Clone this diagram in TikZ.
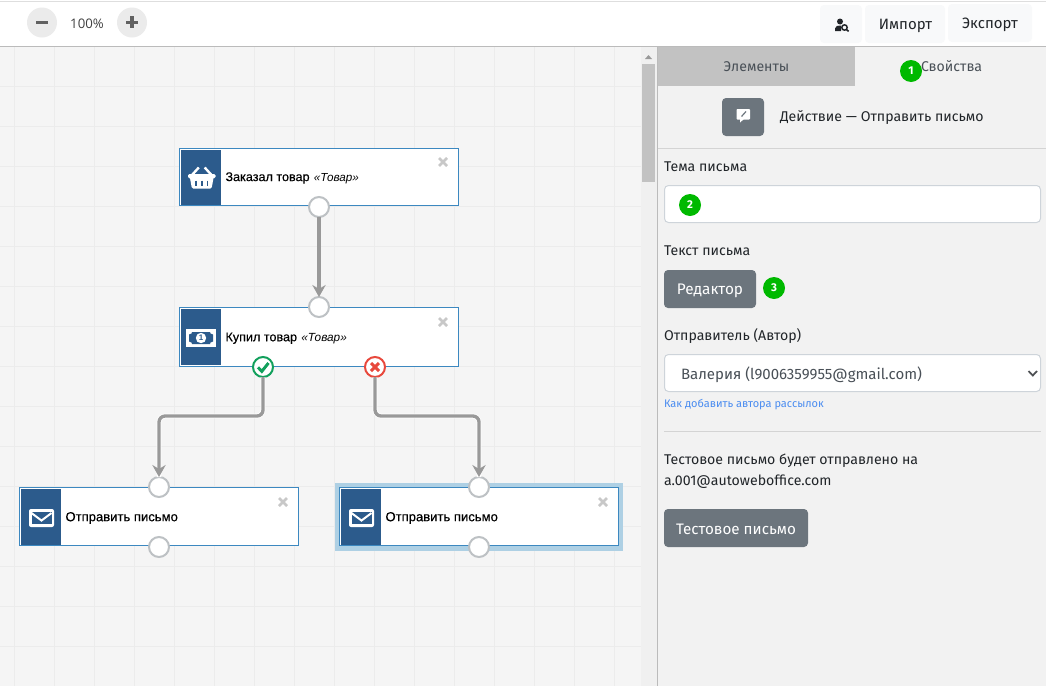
\documentclass[tikz,border=0pt]{standalone}
\usepackage{fontspec}
\setmainfont{Fira Sans}
\newfontfamily\arialf[FakeBold=0.3]{Liberation Sans}
\newfontfamily\ariali[ItalicFont={Liberation Sans Italic}]{Liberation Sans}
\newfontfamily\opens{Open Sans}
\usetikzlibrary{arrows.meta}
\definecolor{canvasbg}{HTML}{F5F5F5}
\definecolor{gridc}{HTML}{ECECEC}
\definecolor{panelbg}{HTML}{F2F2F2}
\definecolor{tabgray}{HTML}{C2C2C2}
\definecolor{linec}{HTML}{BBBBBB}
\definecolor{btn}{HTML}{6C757D}
\definecolor{btnl}{HTML}{F8F9FA}
\definecolor{ink}{HTML}{212529}
\definecolor{inkb}{HTML}{495057}
\definecolor{nblue}{HTML}{2C5B8C}
\definecolor{nedge}{HTML}{3C88C0}
\definecolor{halo}{HTML}{AED0E4}
\definecolor{portc}{HTML}{BDC1C4}
\definecolor{connc}{HTML}{999999}
\definecolor{closec}{HTML}{C8C8C8}
\definecolor{badge}{HTML}{00B900}
\definecolor{okc}{HTML}{12A05C}
\definecolor{noc}{HTML}{E8483C}
\definecolor{inputb}{HTML}{CED4DA}
\definecolor{linkc}{HTML}{4A8CF0}
\definecolor{sep}{HTML}{D4D4D4}
\newcommand{\fz}[1]{\fontsize{#1}{#1}\selectfont}
\tikzset{
 x=0.75pt,y=-0.75pt,
 txt/.style={inner sep=0,outer sep=0,anchor=west,text=ink,font=\fz{10.6}},
 nodebox/.style={draw=nedge,line width=0.75pt,fill=white,inner sep=0,outer sep=0,anchor=north west,minimum height=43.5pt,minimum width=209.25pt},
 nodelabel/.style={inner sep=0,outer sep=0,anchor=west,text=black,font=\arialf\fz{9.45}},
 port/.style={circle,draw=portc,line width=1.5pt,fill=white,minimum size=15pt,inner sep=0,outer sep=0},
 okport/.style={port,draw=okc},
 noport/.style={port,draw=noc},
 conn/.style={draw=connc,line width=2.5pt,rounded corners=4.5pt},
 connhalo/.style={draw=white,line width=3.6pt,rounded corners=4.5pt},
 connarrow/.style={conn,-{Stealth[length=9pt,width=10pt,inset=3pt]}},
 closemark/.style={draw=closec,line width=2pt},
 badgec/.style={circle,fill=badge,text=white,minimum size=16.5pt,inner sep=0,font=\bfseries\fz{8.5}},
 lightbtn/.style={fill=btnl,draw=none,rounded corners=3pt},
 darkbtn/.style={fill=btn,draw=none,rounded corners=3pt},
 field/.style={fill=white,draw=inputb,line width=0.75pt,rounded corners=3pt},
 zoomc/.style={circle,fill=black!8,minimum size=22.5pt,inner sep=0},
 zoomm/.style={draw=black!62,line width=2.6pt},
}
\begin{document}
\begin{tikzpicture}
\useasboundingbox (0,0) rectangle (1046,686);
\fill[white] (0,0) rectangle (1046,686);
% canvas
\fill[canvasbg] (0,47) rectangle (641,686);
\begin{scope}
\clip (0,47) rectangle (641,686);
\foreach \gx in {14,54,...,634} \draw[gridc,line width=0.75pt] (\gx,47) -- (\gx,686);
\foreach \gy in {86.5,126.5,...,680} \draw[gridc,line width=0.75pt] (0,\gy) -- (641,\gy);
\end{scope}
% toolbar
\fill[black!13] (0,0.5) rectangle (1046,1.8);
\draw[linec,line width=0.75pt] (0,46.5) -- (1046,46.5);
\node[zoomc] (zminus) at (42,22.5) {};
\node[zoomc] (zplus) at (132,22.5) {};
\draw[zoomm] (36,22.3) -- (48,22.3);
\draw[zoomm] (126,22.3) -- (138,22.3) (132,16.3) -- (132,28.3);
\node[inner sep=0,text=black!75,font=\opens\fz{9.9}] (zpct) at (87,23.3) {100\%};
\fill[lightbtn] (820,5) rectangle (862,43);
\fill[lightbtn] (865,5) rectangle (945,43);
\fill[lightbtn] (948,4) rectangle (1032,42);
\node[inner sep=0,text=ink,font=\fz{11.25}] (imp) at (905.5,25.8) {Импорт};
\node[inner sep=0,text=ink,font=\fz{11.25}] (exp) at (990,24.8) {Экспорт};
% search-user icon
\fill[ink] (840,21.5) circle (3);
\fill[ink] (835,31) -- (835,28.5) .. controls (835,26) and (838,25.2) .. (841,25.5) -- (841,31) -- cycle;
\draw[ink,line width=1.1pt,fill=btnl] (844.5,27.5) circle (2.7);
\draw[ink,line width=1.2pt] (846.5,29.5) -- (848.6,31.4);
% scrollbar
\fill[black!6] (641,47) rectangle (657,686);
\fill[tabgray] (642,64) rectangle (655,182);
\fill[black!40] (645,59) -- (652,59) -- (648.5,55) -- cycle;
% panel
\fill[panelbg] (658,47) rectangle (1046,686);
\fill[tabgray] (658,47) rectangle (855,86);
\draw[linec,line width=1pt] (657.5,47) -- (657.5,686);
\node[inner sep=0,text=inkb,font=\fz{10.6}] (tab1) at (756.5,66.8) {Элементы};
\node[inner sep=0,text=inkb,font=\fz{10.6}] (tab2) at (951.5,66.2) {Свойства};
\node[badgec] (b1) at (911,71) {1};
% action header
\fill[darkbtn] (722,98) rectangle (764,136);
\fill[white,rounded corners=0.6pt] (736.5,109) rectangle (750,119.5);
\fill[white] (740,119) -- (740,122.5) -- (744,119) -- cycle;
\draw[btn,line width=0.9pt] (741.5,116.5) -- (746,111.5);
\node[txt] (acttitle) at (780,117.3) {Действие — Отправить письмо};
\draw[sep,line width=0.75pt] (658,148.5) -- (1046,148.5);
% form
\node[txt] (l1) at (664,166.5) {Тема письма};
\draw[field] (664.5,185.5) rectangle (1040.5,222.5);
\node[badgec] (b2) at (690,205) {2};
\node[txt] (l2) at (664,250.8) {Текст письма};
\fill[darkbtn] (664,270) rectangle (756,308);
\node[inner sep=0,text=white,font=\fz{11.5}] (bed) at (710,290.4) {Редактор};
\node[badgec] (b3) at (774,288) {3};
\node[txt] (l3) at (664,336) {Отправитель (Автор)};
\draw[field] (664.5,354.5) rectangle (1040.5,391.5);
\node[txt,text=inkb,font=\fz{11.25}] (sel) at (681,375) {Валерия (l9006359955@gmail.com)};
\draw[ink!80,line width=1.3pt] (1028.5,371) -- (1032.8,375.5) -- (1037,371);
\node[txt,text=linkc,font=\fz{8.25}] (lnk) at (664,405) {Как добавить автора рассылок};
\draw[sep,line width=0.75pt] (664,431.5) -- (1041,431.5);
\node[txt] (t1) at (664,460.3) {Тестовое письмо будет отправлено на};
\node[txt] (t2) at (664,482) {a.001@autoweboffice.com};
\fill[darkbtn] (664,509) rectangle (808,547);
\node[inner sep=0,text=white,font=\fz{11.4}] (btest) at (736,529.4) {Тестовое письмо};
% flow boxes
\fill[halo] (335,483) rectangle (623,551);
\node[nodebox,minimum height=43.1pt] (n1) at (179.5,148.5) {};
\node[nodebox,minimum height=44.25pt] (n2) at (179.5,307.5) {};
\node[nodebox,minimum height=43.5pt] (n3) at (19.5,487.5) {};
\node[nodebox,minimum height=43.5pt] (n4) at (339.5,487.5) {};
\fill[nblue] (181,149.7) rectangle (221,205);
\fill[nblue] (181,309) rectangle (221,365);
\fill[nblue] (21,489) rectangle (61,545);
\fill[nblue] (341,489) rectangle (381,545);
% basket
\fill[white,rounded corners=1pt] (188,174) rectangle (215.5,178.3);
\fill[white,rounded corners=1pt] (189.8,177) -- (213.7,177) -- (211.6,188.5) -- (191.9,188.5) -- cycle;
\draw[nblue,line width=1.2pt] (196,180.5) -- (196,185.5) (201.7,180.5) -- (201.7,185.5) (207.4,180.5) -- (207.4,185.5);
\draw[white,line width=1.8pt] (192,175) -- (198.8,167.5) (211.5,175) -- (204.7,167.5);
% money
\fill[white] (186,329) rectangle (216,347);
\fill[nblue] (192,332) -- (210,332) -- (210.5,333.5) -- (213,334.5) -- (213,341.5) -- (210.5,342.5) -- (210,344) -- (192,344) -- (191.5,342.5) -- (189,341.5) -- (189,334.5) -- (191.5,333.5) -- cycle;
\fill[white] (201,338) circle (5.2);
\node[inner sep=0,text=nblue,font=\ariali\bfseries\fz{6}] (moneyone) at (201,338) {1};
% envelopes
\foreach \ex in {29,349}{
 \fill[white,rounded corners=1.5pt] (\ex,509) rectangle (\ex+25,527);
 \fill[nblue] (\ex+2.5,512) rectangle (\ex+22.5,524.3);
 \draw[white,line width=1.5pt] (\ex+2.5,513) -- (\ex+12.5,520.5) -- (\ex+22.5,513);
}
% labels
\node[nodelabel] (n1t) at (225.5,178) {Заказал товар\hspace{3.2pt}{\ariali\fz{8.75}\itshape «Товар»}};
\node[nodelabel] (n2t) at (225.5,338.2) {Купил товар\hspace{3.2pt}{\ariali\fz{8.85}\itshape «Товар»}};
\node[nodelabel,font=\arialf\fz{9.8}] (n3t) at (65.5,518) {Отправить письмо};
\node[nodelabel,font=\arialf\fz{9.8}] (n4t) at (385.5,518) {Отправить письмо};
% close marks
\foreach \cx/\cy in {443/162,443/322,283/502,603/502}
 \draw[closemark] (\cx-4,\cy-4) -- (\cx+4,\cy+4) (\cx-4,\cy+4) -- (\cx+4,\cy-4);
% ports
\node[port] (p1b) at (319,207) {};
\node[port] (p2t) at (319,307) {};
\node[okport] (p2y) at (263,367) {};
\node[noport] (p2n) at (375,367) {};
\node[port] (p3t) at (159,487) {};
\node[port] (p3b) at (159,547) {};
\node[port] (p4t) at (479,487) {};
\node[port] (p4b) at (479,547) {};
\draw[okc,line width=2.2pt] (258,367.3) -- (261.8,371.4) -- (268.5,363);
\draw[noc,line width=2.2pt] (371,363) -- (379,371) (371,371) -- (379,363);
% connectors
\coordinate (m1) at (159,416);
\coordinate (m2) at (479,416);
\draw[connhalo] (p2y) |- (m1) -- (p3t);
\draw[connhalo] (p2n) |- (m2) -- (p4t);
\draw[connarrow] (p1b) -- (p2t);
\draw[connarrow] (p2y) |- (m1) -- (p3t);
\draw[connarrow] (p2n) |- (m2) -- (p4t);
\end{tikzpicture}
\end{document}
